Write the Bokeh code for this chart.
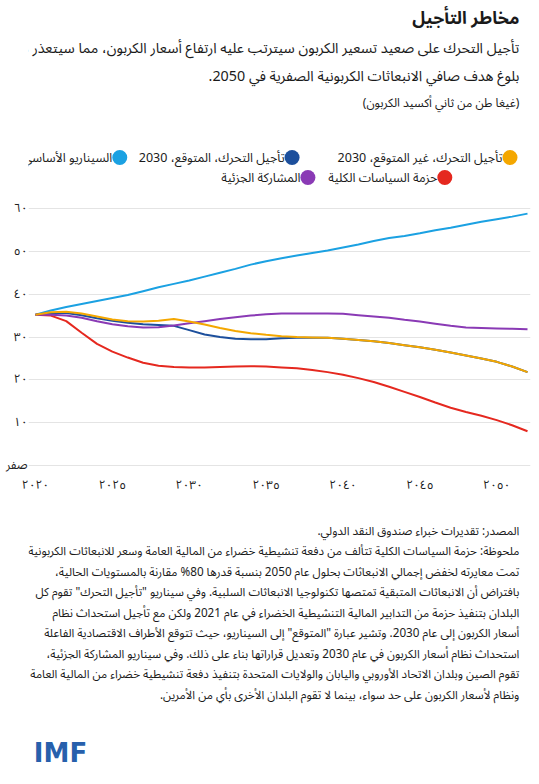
from bokeh.plotting import figure
from bokeh.layouts import column
from bokeh.models import FixedTicker, Range1d
from bokeh.embed import file_html
from bokeh.resources import INLINE
from bokeh.core.properties import value

# ---------------- data ----------------
years = list(range(2020, 2053))
baseline = [35.2, 36.2, 37.0, 37.7, 38.4, 39.1, 39.8, 40.7, 41.6, 42.4, 43.2, 44.1, 45.0, 45.9, 46.9,
            47.7, 48.4, 49.0, 49.6, 50.2, 50.9, 51.6, 52.4, 53.1, 53.6, 54.2, 54.9, 55.5, 56.2, 56.9,
            57.5, 58.1, 58.8]
delayed_expected = [35.2, 35.6, 35.6, 35.1, 34.4, 33.8, 33.3, 33.0, 32.8, 32.6, 31.6, 30.6, 30.0, 29.6,
                    29.5, 29.5, 29.7, 29.8, 29.8, 29.8, 29.6, 29.3, 29.0, 28.6, 28.1, 27.6, 27.0, 26.4,
                    25.7, 25.0, 24.2, 23.1, 21.8]
delayed_unexpected = [35.2, 35.8, 35.9, 35.5, 34.8, 34.1, 33.7, 33.6, 33.8, 34.2, 33.6, 32.9, 32.1, 31.4,
                      30.9, 30.5, 30.2, 30.0, 29.9, 29.8, 29.6, 29.3, 29.0, 28.6, 28.1, 27.6, 27.0, 26.4,
                      25.7, 25.0, 24.2, 23.1, 21.8]
total_package = [35.2, 35.0, 33.7, 31.0, 28.4, 26.6, 25.2, 24.0, 23.3, 23.0, 22.9, 22.9, 23.0, 23.1,
                 23.2, 23.1, 22.9, 22.7, 22.3, 21.8, 21.2, 20.4, 19.5, 18.4, 17.2, 16.0, 14.7, 13.5,
                 12.5, 11.6, 10.6, 9.4, 8.0]
partial = [35.2, 35.2, 35.0, 34.5, 33.7, 33.0, 32.5, 32.2, 32.3, 32.7, 33.2, 33.7, 34.2, 34.6, 35.0,
           35.3, 35.5, 35.5, 35.5, 35.5, 35.4, 35.1, 34.8, 34.5, 34.0, 33.6, 33.1, 32.6, 32.2, 32.1,
           32.0, 31.9, 31.8]

name_baseline = "السيناريو الأساسي"
name_expected = "تأجيل التحرك، المتوقع، 2030"
name_unexpected = "تأجيل التحرك، غير المتوقع، 2030"
name_total = "حزمة السياسات الكلية"
name_partial = "المشاركة الجزئية"

x_ticks = [2020, 2025, 2030, 2035, 2040, 2045, 2050]
x_tick_labels = ["٢٠٢٠", "٢٠٢٥", "٢٠٣٠", "٢٠٣٥", "٢٠٤٠", "٢٠٤٥", "٢٠٥٠"]
y_ticks = [0, 10, 20, 30, 40, 50, 60]
y_tick_labels = ["صفر", "١٠", "٢٠", "٣٠", "٤٠", "٥٠", "٦٠"]

title = "مخاطر التأجيل"
subtitle = [
    "تأجيل التحرك على صعيد تسعير الكربون سيترتب عليه ارتفاع أسعار الكربون، مما سيتعذر معه",
    "بلوغ هدف صافي الانبعاثات الكربونية الصفرية في 2050.",
]
units = "(غيغا طن من ثاني أكسيد الكربون)"
source = "المصدر: تقديرات خبراء صندوق النقد الدولي."
note = [
    "ملحوظة: حزمة السياسات الكلية تتألف من دفعة تنشيطية خضراء من المالية العامة وسعر للانبعاثات الكربونية",
    "تمت معايرته لخفض إجمالي الانبعاثات بحلول عام 2050 بنسبة قدرها 80% مقارنة بالمستويات الحالية،",
    "بافتراض أن الانبعاثات المتبقية تمتصها تكنولوجيا الانبعاثات السلبية. وفي سيناريو \"تأجيل التحرك\" تقوم كل",
    "البلدان بتنفيذ حزمة من التدابير المالية التنشيطية الخضراء في عام 2021 ولكن مع تأجيل استحداث نظام",
    "أسعار الكربون إلى عام 2030. وتشير عبارة \"المتوقع\" إلى السيناريو، حيث تتوقع الأطراف الاقتصادية الفاعلة",
    "استحداث نظام أسعار الكربون في عام 2030 وتعديل قراراتها بناء على ذلك. وفي سيناريو المشاركة الجزئية،",
    "تقوم الصين وبلدان الاتحاد الأوروبي واليابان والولايات المتحدة بتنفيذ دفعة تنشيطية خضراء من المالية العامة",
    "ونظام لأسعار الكربون على حد سواء، بينما لا تقوم البلدان الأخرى بأي من الأمرين.",
]
logo = "IMF"

C_BASE = "#1ba1e2"
C_EXP = "#1c4f9c"
C_UNEXP = "#f4a700"
C_TOTAL = "#e5281f"
C_PART = "#8a3ab5"

FONT = "Noto Sans Arabic"
W = 539


def rtl(s):
    # right-to-left marks so trailing punctuation sits at the left end, as in RTL text
    return "\u200f" + s + "\u200f"


def text_fig(h):
    f = figure(width=W, height=h, x_range=Range1d(0, W), y_range=Range1d(0, h),
               output_backend="svg", toolbar_location=None, min_border=0,
               x_axis_location=None, y_axis_location=None)
    f.grid.visible = False
    f.outline_line_color = None
    return f


# ---------------- header (page y 0..195) ----------------
HH = 195
hdr = text_fig(HH)
hdr.text(x=[527], y=[HH - 18], text=[rtl(title)], text_font=value(FONT), text_font_size="17.5px",
         text_font_style="bold", text_align="right", text_baseline="middle", text_color="#1a1a1a")
hdr.text(x=[527, 527], y=[HH - 48, HH - 76], text=[rtl(s) for s in subtitle], text_font=value(FONT),
         text_font_size="14.3px", text_align="right", text_baseline="middle", text_color="#1a1a1a")
hdr.text(x=[527], y=[HH - 103], text=[rtl(units)], text_font=value(FONT), text_font_size="12px",
         text_align="right", text_baseline="middle", text_color="#1a1a1a")

leg_names = [name_unexpected, name_expected, name_baseline, name_total, name_partial]
leg_colors = [C_UNEXP, C_EXP, C_BASE, C_TOTAL, C_PART]
leg_x = [517, 283, 98, 447, 300]
leg_y = [HH - 157, HH - 157, HH - 157, HH - 177, HH - 177]
hdr.scatter(x=leg_x, y=leg_y, size=15, marker="circle", fill_color=leg_colors, line_color=None)
hdr.text(x=[v - 8 for v in leg_x], y=leg_y, text=[rtl(s) for s in leg_names], text_font=value(FONT),
         text_font_size="12.5px", text_align="right", text_baseline="middle", text_color="#1a1a1a")

# ---------------- chart (page y 195..500) ----------------
p = figure(width=W, height=305, x_range=Range1d(2019.545, 2052.195), y_range=Range1d(-0.23, 60.23),
           output_backend="svg", toolbar_location=None,
           min_border_left=28, min_border_right=9, min_border_top=12, min_border_bottom=28)
p.outline_line_color = None
p.xgrid.visible = False
p.ygrid.ticker = FixedTicker(ticks=y_ticks)
p.ygrid.grid_line_color = "#e4e4e4"
p.ygrid.grid_line_width = 1

p.xaxis.ticker = FixedTicker(ticks=x_ticks)
p.xaxis.major_label_overrides = dict(zip(x_ticks, x_tick_labels))
p.yaxis.ticker = FixedTicker(ticks=y_ticks)
p.yaxis.major_label_overrides = dict(zip(y_ticks, y_tick_labels))
for ax in (p.xaxis, p.yaxis):
    ax.axis_line_color = None
    ax.major_tick_line_color = None
    ax.minor_tick_line_color = None
    ax.major_tick_out = 0
    ax.major_tick_in = 0
    ax.major_label_text_font = FONT
    ax.major_label_text_font_size = "12px"
    ax.major_label_text_color = "#222222"
p.xaxis.major_label_standoff = 6
p.yaxis.major_label_standoff = 1
p.yaxis.major_label_text_baseline = "alphabetic"

p.line(years, baseline, line_color=C_BASE, line_width=2)
p.line(years, total_package, line_color=C_TOTAL, line_width=2)
p.line(years, delayed_expected, line_color=C_EXP, line_width=2)
p.line(years, partial, line_color=C_PART, line_width=2)
p.line(years, delayed_unexpected, line_color=C_UNEXP, line_width=2)

# ---------------- footer (page y 500..784) ----------------
FH = 284
ftr = text_fig(FH)
ftr.text(x=[527], y=[FH - 31], text=[rtl(source)], text_font=value(FONT), text_font_size="11.7px",
         text_align="right", text_baseline="middle", text_color="#1a1a1a")
note_y = [FH - 51 - 20.5 * i for i in range(len(note))]
ftr.text(x=[527] * len(note), y=note_y, text=[rtl(s) for s in note], text_font=value(FONT),
         text_font_size="11.7px", text_align="right", text_baseline="middle", text_color="#1a1a1a")
ftr.text(x=[63], y=[FH - 252], text=[logo], text_font=value("DejaVu Sans"), text_font_size="26px",
         text_font_style="bold", text_align="right", text_baseline="middle", text_color="#2760ac")

layout = column(hdr, p, ftr, spacing=0)
open("out.html", "w").write(file_html(layout, INLINE))
